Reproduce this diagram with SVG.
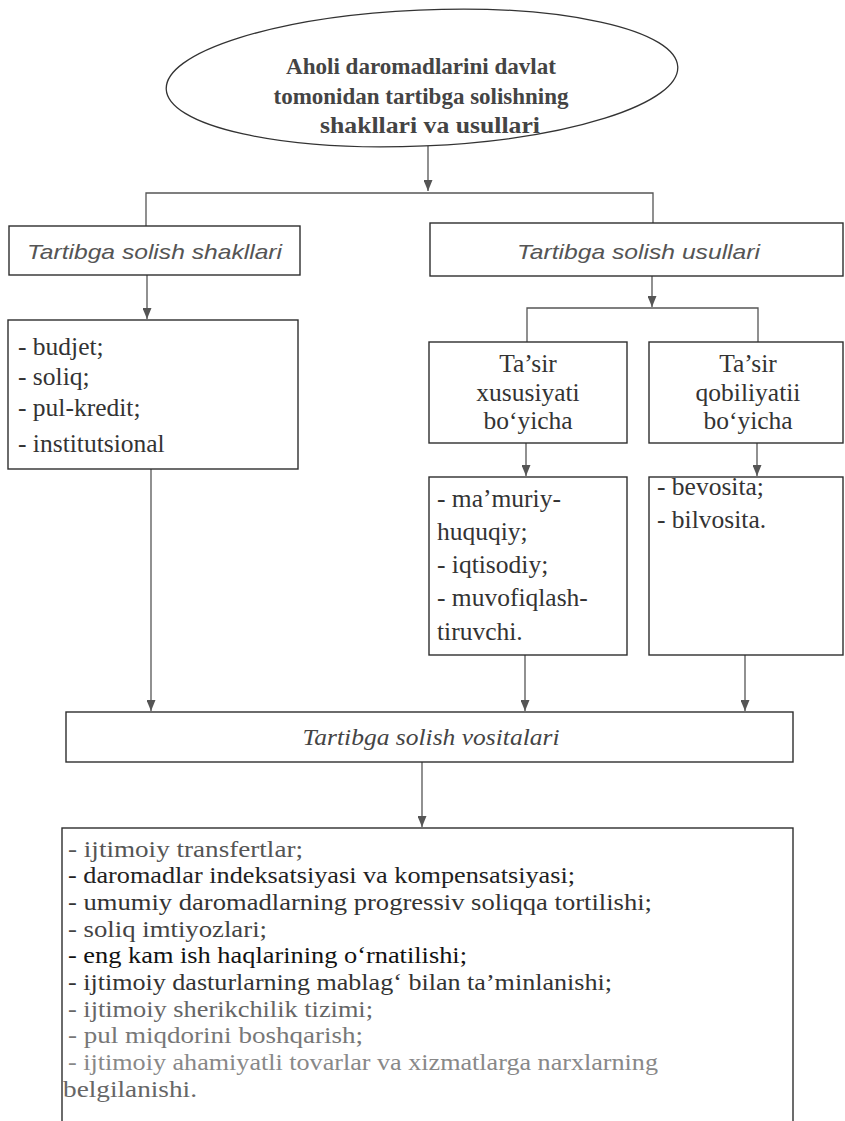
<svg xmlns="http://www.w3.org/2000/svg" width="845" height="1121" viewBox="0 0 845 1121">
<defs>
<style>
.bg{fill:#fff}
.box{fill:#fff;stroke:#2e2e2e;stroke-width:1.4}
.ln{fill:none;stroke:#555;stroke-width:1.3}
.t{font-family:"Liberation Serif","Times New Roman",serif;font-size:25.5px;fill:#333}
.tb{font-family:"Liberation Serif","Times New Roman",serif;font-size:24px;font-weight:bold;fill:#444;text-anchor:middle}
.ti{font-family:"Liberation Sans",Arial,sans-serif;font-style:italic;font-size:21px;fill:#555;text-anchor:middle}
.tsi{font-family:"Liberation Serif","Times New Roman",serif;font-style:italic;font-size:24px;fill:#444;text-anchor:middle}
.c{text-anchor:middle}
.l{font-family:"Liberation Serif","Times New Roman",serif;font-size:23px}
</style>
<marker id="ah" markerUnits="userSpaceOnUse" markerWidth="9" markerHeight="11" refX="4.5" refY="11" orient="0" viewBox="0 0 9 11">
<path d="M0,0 L9,0 L4.5,11 Z" fill="#555"/>
</marker>
</defs>
<rect class="bg" x="0" y="0" width="845" height="1121"/>

<g id="connectors">
<line class="ln" x1="428" y1="146" x2="428" y2="191" marker-end="url(#ah)"/>
<polyline class="ln" points="146,226 146,193 653,193 653,223"/>
<line class="ln" x1="147" y1="275" x2="147" y2="319" marker-end="url(#ah)"/>
<line class="ln" x1="652" y1="276" x2="652" y2="307" marker-end="url(#ah)"/>
<polyline class="ln" points="527,342 527,308 758,308 758,342"/>
<line class="ln" x1="526" y1="443" x2="526" y2="476" marker-end="url(#ah)"/>
<line class="ln" x1="757" y1="443" x2="757" y2="476" marker-end="url(#ah)"/>
<line class="ln" x1="151" y1="469" x2="151" y2="711" marker-end="url(#ah)"/>
<line class="ln" x1="525" y1="655" x2="525" y2="711" marker-end="url(#ah)"/>
<line class="ln" x1="745" y1="655" x2="745" y2="711" marker-end="url(#ah)"/>
<line class="ln" x1="422" y1="762" x2="422" y2="827" marker-end="url(#ah)"/>
</g>

<g id="root">
<ellipse cx="422" cy="78" rx="256" ry="68" transform="rotate(-2.5 422 78)" fill="#fff" stroke="#333" stroke-width="1.3"/>
<text class="tb" x="421" y="74" textLength="270" lengthAdjust="spacingAndGlyphs">Aholi daromadlarini davlat</text>
<text class="tb" x="421" y="104" textLength="295" lengthAdjust="spacingAndGlyphs">tomonidan tartibga solishning</text>
<text class="tb" x="430" y="133" textLength="220" lengthAdjust="spacingAndGlyphs">shakllari va usullari</text>
</g>

<g id="shakllari">
<rect class="box" x="9" y="226" width="291" height="49"/>
<text class="ti" x="154.5" y="259" textLength="255" lengthAdjust="spacingAndGlyphs">Tartibga solish shakllari</text>
</g>

<g id="usullari">
<rect class="box" x="430" y="223" width="413" height="53"/>
<text class="ti" x="638.5" y="259" textLength="243" lengthAdjust="spacingAndGlyphs">Tartibga solish usullari</text>
</g>

<g id="shakllar-list">
<rect class="box" x="8" y="320" width="290" height="149"/>
<text class="t" x="18" y="355">- budjet;</text>
<text class="t" x="18" y="385">- soliq;</text>
<text class="t" x="18" y="416">- pul-kredit;</text>
<text class="t" x="18" y="452">- institutsional</text>
</g>

<g id="xususiyat">
<rect class="box" x="429" y="342" width="198" height="101"/>
<text class="t c" x="528" y="372">Ta’sir</text>
<text class="t c" x="528" y="401">xususiyati</text>
<text class="t c" x="528" y="429">bo‘yicha</text>
</g>

<g id="qobiliyat">
<rect class="box" x="649" y="342" width="194" height="101"/>
<text class="t c" x="748" y="372">Ta’sir</text>
<text class="t c" x="748" y="401">qobiliyatii</text>
<text class="t c" x="748" y="429">bo‘yicha</text>
</g>

<g id="xususiyat-list">
<rect class="box" x="429" y="477" width="198" height="178"/>
<text class="t" x="437" y="507">- ma’muriy-</text>
<text class="t" x="437" y="540">huquqiy;</text>
<text class="t" x="437" y="573">- iqtisodiy;</text>
<text class="t" x="437" y="606">- muvofiqlash-</text>
<text class="t" x="437" y="640">tiruvchi.</text>
</g>

<g id="qobiliyat-list">
<rect class="box" x="649" y="477" width="194" height="178"/>
<text class="t" x="657" y="495">- bevosita;</text>
<text class="t" x="657" y="528">- bilvosita.</text>
</g>

<g id="vositalari">
<rect class="box" x="66" y="712" width="727" height="50"/>
<text class="tsi" x="431" y="745" textLength="257" lengthAdjust="spacingAndGlyphs">Tartibga solish vositalari</text>
</g>

<g id="vositalar-list">
<rect class="box" x="62" y="828" width="731" height="310"/>
<text class="l" x="68" y="857" fill="#555" textLength="235" lengthAdjust="spacingAndGlyphs">- ijtimoiy transfertlar;</text>
<text class="l" x="68" y="883" fill="#222" textLength="507" lengthAdjust="spacingAndGlyphs">- daromadlar indeksatsiyasi va kompensatsiyasi;</text>
<text class="l" x="68" y="910" fill="#333" textLength="584" lengthAdjust="spacingAndGlyphs">- umumiy daromadlarning progressiv soliqqa tortilishi;</text>
<text class="l" x="68" y="937" fill="#444" textLength="199" lengthAdjust="spacingAndGlyphs">- soliq imtiyozlari;</text>
<text class="l" x="68" y="963" fill="#111" textLength="399" lengthAdjust="spacingAndGlyphs">- eng kam ish haqlarining o‘rnatilishi;</text>
<text class="l" x="68" y="990" fill="#333" textLength="544" lengthAdjust="spacingAndGlyphs">- ijtimoiy dasturlarning mablag‘ bilan ta’minlanishi;</text>
<text class="l" x="68" y="1017" fill="#666" textLength="305" lengthAdjust="spacingAndGlyphs">- ijtimoiy sherikchilik tizimi;</text>
<text class="l" x="68" y="1043" fill="#777" textLength="295" lengthAdjust="spacingAndGlyphs">- pul miqdorini boshqarish;</text>
<text class="l" x="68" y="1070" fill="#888" textLength="590" lengthAdjust="spacingAndGlyphs">- ijtimoiy ahamiyatli tovarlar va xizmatlarga narxlarning</text>
<text class="l" x="63" y="1097" fill="#666" textLength="134" lengthAdjust="spacingAndGlyphs">belgilanishi.</text>
</g>
</svg>
